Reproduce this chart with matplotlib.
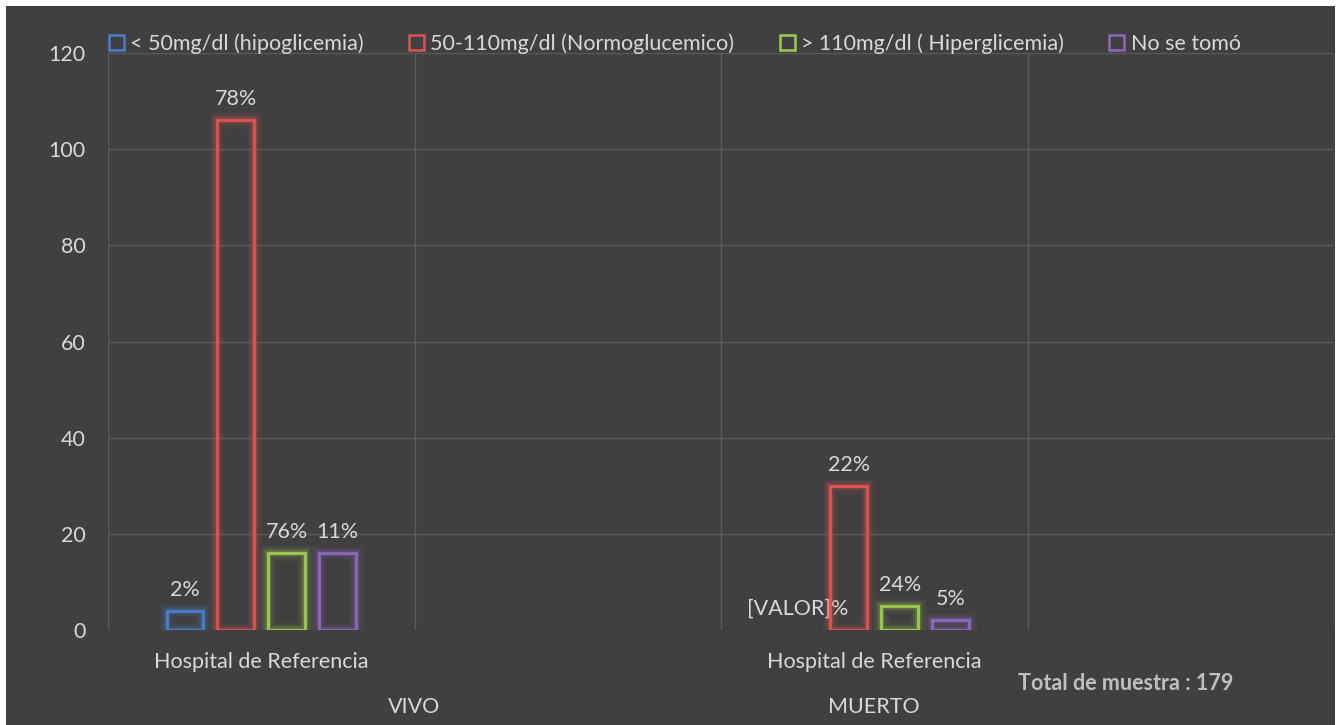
import matplotlib.pyplot as plt
import matplotlib.patheffects as pe
from matplotlib.patches import Rectangle
import numpy as np

plt.rcParams['font.family'] = ['Lato', 'DejaVu Sans']

# data
groups = ['VIVO', 'MUERTO']
subcats = ['Hospital de Referencia', 'Hospital de Referencia']
series = ['< 50mg/dl (hipoglicemia)', '50-110mg/dl (Normoglucemico)',
          '> 110mg/dl ( Hiperglicemia)', 'No se tomó']
hipo = [4, 0]
normo = [106, 30]
hiper = [16, 5]
no_tomo = [16, 2]
labels_hipo = ['2%', '[VALOR]%']
labels_normo = ['78%', '22%']
labels_hiper = ['76%', '24%']
labels_no = ['11%', '5%']
total_text = 'Total de muestra : 179'

colors = ['#4A7FCB', '#E05252', '#9DCB50', '#8D68BC']
bg = '#404040'
txt = '#D9D9D9'
grid = '#5A5A5A'
fs = 15.5

fig = plt.figure(figsize=(13.4, 7.25), dpi=100, facecolor='white')
fig.patches.append(Rectangle((6 / 1340, 0), 1329 / 1340, 719 / 725,
                             transform=fig.transFigure, facecolor=bg,
                             edgecolor='none', zorder=-10))
ax = fig.add_axes([108 / 1340, 1 - 630 / 725, 1226 / 1340, 577 / 725])
ax.set_facecolor(bg)
ax.patch.set_alpha(0)

x = np.array([0, 2])
width = 0.12
step = 0.166
values = [hipo, normo, hiper, no_tomo]
labels = [labels_hipo, labels_normo, labels_hiper, labels_no]
handles = []
for i, (vals, labs, col) in enumerate(zip(values, labels, colors)):
    pos = x + (i - 1.5) * step
    bars = ax.bar(pos, vals, width, facecolor='none', edgecolor=col,
                  linewidth=2, label=series[i], zorder=3)
    for b, v in zip(bars, vals):
        if v == 0:
            b.set_visible(False)
        b.set_path_effects([pe.Stroke(linewidth=11, foreground=col, alpha=0.07),
                            pe.Stroke(linewidth=7, foreground=col, alpha=0.12),
                            pe.Stroke(linewidth=4, foreground=col, alpha=0.25),
                            pe.Normal()])
    handles.append(Rectangle((0, 0), 1, 1, facecolor='none', edgecolor=col, linewidth=1.8))
    for p, v, lab in zip(pos, vals, labs):
        ax.annotate(lab, (p, v), xytext=(0, 8), textcoords='offset points',
                    ha='center', va='bottom', color=txt, fontsize=fs)

ax.set_xlim(-0.5, 3.5)
ax.set_ylim(0, 120)
ax.set_yticks(np.arange(0, 121, 20))
ax.set_xticks([])
for y in range(20, 121, 20):
    ax.axhline(y, color=grid, linewidth=1, zorder=1)
for xv in [-0.5, 0.5, 1.5, 2.5, 3.5]:
    ax.axvline(xv, color=grid, linewidth=1, zorder=1)
for s in ax.spines.values():
    s.set_visible(False)
ax.tick_params(axis='y', length=0, colors=txt, labelsize=fs, pad=16)

# category labels
for xv, s in zip(x, subcats):
    ax.text(xv, -0.055, s, transform=ax.get_xaxis_transform(), ha='center',
            va='center', color=txt, fontsize=fs)
ax.text(0.5, -0.133, groups[0], transform=ax.get_xaxis_transform(), ha='center',
        va='center', color=txt, fontsize=fs)
ax.text(2, -0.133, groups[1], transform=ax.get_xaxis_transform(), ha='center',
        va='center', color=txt, fontsize=fs)
fig.text(1126 / 1340, 1 - 683 / 725, total_text, ha='center', va='center',
         color='#BFBFBF', fontsize=fs, fontweight='bold')

fig.legend(handles, series, loc='center left', bbox_to_anchor=(100 / 1340, 1 - 44 / 725),
           ncol=4, frameon=False, fontsize=fs, labelcolor=txt, handlelength=0.7,
           handleheight=0.7, handletextpad=0.3, columnspacing=2.1, borderaxespad=0)

fig.savefig('out.png', dpi=100, facecolor='white')
